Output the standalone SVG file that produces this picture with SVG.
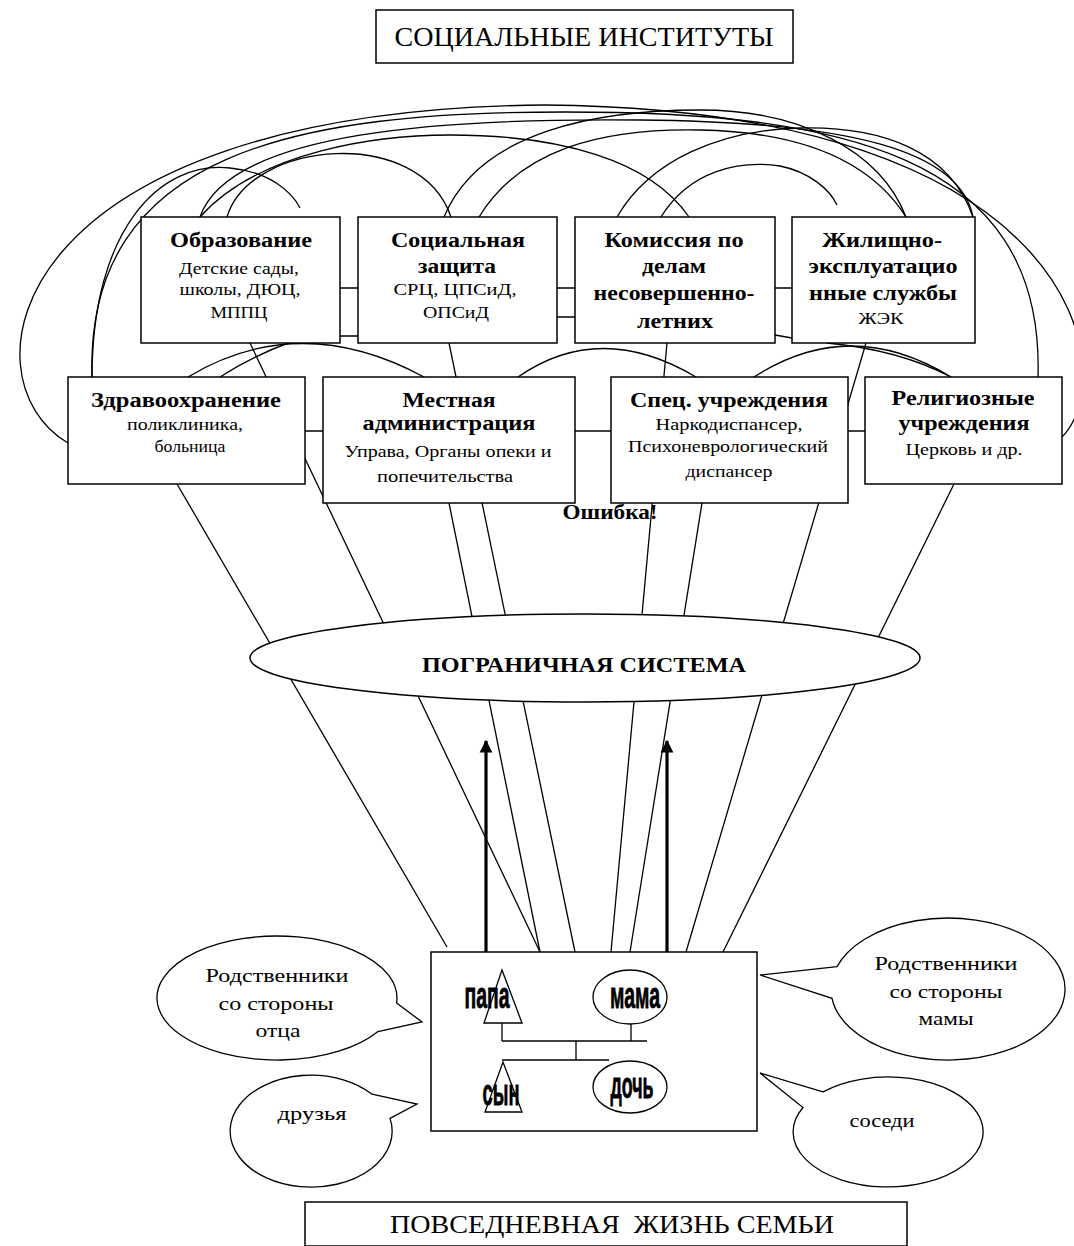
<svg xmlns="http://www.w3.org/2000/svg" width="1074" height="1246" viewBox="0 0 1074 1246">
<style>
.bg{fill:#fff}
.ln{fill:none;stroke:#000;stroke-width:1.3}
.bx{fill:#fff;stroke:#000;stroke-width:1.5}
.t{font-family:"Liberation Serif","Times New Roman",serif;fill:#000;text-anchor:middle}
.b{font-weight:bold;font-size:20px}
.n{font-size:17px}
.fam{font-family:"Liberation Sans",Arial,sans-serif;font-weight:bold;font-size:36px;fill:#000;stroke:#000;stroke-width:0.8;text-anchor:middle}
.bub{fill:#fff;stroke:#000;stroke-width:1.3}
.arr{fill:none;stroke:#000;stroke-width:3.2}
</style>
<defs>
<marker id="ah" viewBox="0 0 10 10" refX="9" refY="5" markerWidth="4" markerHeight="4.5" orient="auto" markerUnits="strokeWidth">
<path d="M0,0 L10,5 L0,10 Z" fill="#000"/>
</marker>
</defs>
<rect class="bg" x="0" y="0" width="1074" height="1246"/>

<g id="connectors">
<!-- big arcs -->
<path class="ln" d="M68,443 C -40,380 0,110 545,105 C 1090,110 1120,380 1062,437"/>
<path class="ln" d="M92,377 C 85,150 300,112 565,112 C 830,112 1045,150 1038,377"/>
<path class="ln" d="M200,217 C 230,130 450,118 640,120 C 850,122 960,150 973,217"/>
<path class="ln" d="M227,217 C 250,140 420,125 451,217"/>
<path class="ln" d="M92,377 C 92,230 160,160 230,168 C 270,172 292,192 300,208"/>
<path class="ln" d="M661,217 C 690,170 740,160 780,166 C 810,172 830,190 837,205"/>
<path class="ln" d="M444,217 C 480,130 600,110 700,110 C 800,110 880,150 906,217"/>
<path class="ln" d="M479,217 C 520,150 600,128 700,130 C 800,132 870,160 906,217"/>
<path class="ln" d="M617,217 C 650,160 720,130 800,128 C 880,126 950,150 973,217"/>
<path class="ln" d="M200,217 C 260,150 380,135 450,135 C 560,135 650,160 689,217"/>
<!-- arcs between rows -->
<path class="ln" d="M188,377 Q 300,310 424,377"/>
<path class="ln" d="M220,377 Q 270,345 330,330"/>
<path class="ln" d="M518,377 Q 600,320 696,377"/>
<path class="ln" d="M754,377 Q 850,315 951,377"/>
<path class="ln" d="M827,343 Q 900,350 951,377"/>
<!-- box-to-box short links -->
<path class="ln" d="M340,288 H358 M340,336 H358 M557,288 H575 M557,317 H575 M775,288 H792 M775,335 L792,338 M305,431 H323 M575,431 H611 M848,431 H865"/>
<!-- spokes to the family -->
<path class="ln" d="M177,484 L447,947"/>
<path class="ln" d="M250,343 L540,952"/>
<path class="ln" d="M449,503 L540,952"/>
<path class="ln" d="M449,343 L575,952"/>
<path class="ln" d="M667,343 L611,952"/>
<path class="ln" d="M702,503 L630,952"/>
<path class="ln" d="M866,343 L686,952"/>
<path class="ln" d="M954,484 L723,952"/>
</g>

<g id="title-top">
<rect class="bx" x="376" y="10" width="417" height="53"/>
<text class="t" x="584" y="46" font-size="27" textLength="379" lengthAdjust="spacingAndGlyphs">СОЦИАЛЬНЫЕ ИНСТИТУТЫ</text>
</g>

<g id="obrazovanie">
<rect class="bx" x="141" y="217" width="199" height="126"/>
<text class="t b" x="241" y="247" textLength="142" lengthAdjust="spacingAndGlyphs">Образование</text>
<text class="t n" x="239" y="274" textLength="120" lengthAdjust="spacingAndGlyphs">Детские сады,</text>
<text class="t n" x="240" y="295" textLength="121" lengthAdjust="spacingAndGlyphs">школы, ДЮЦ,</text>
<text class="t n" x="239" y="318" textLength="57" lengthAdjust="spacingAndGlyphs">МППЦ</text>
</g>

<g id="soczashita">
<rect class="bx" x="358" y="217" width="199" height="126"/>
<text class="t b" x="458" y="247" textLength="134" lengthAdjust="spacingAndGlyphs">Социальная</text>
<text class="t b" x="457" y="273" textLength="78" lengthAdjust="spacingAndGlyphs">защита</text>
<text class="t n" x="455" y="295" textLength="123" lengthAdjust="spacingAndGlyphs">СРЦ, ЦПСиД,</text>
<text class="t n" x="456" y="318" textLength="66" lengthAdjust="spacingAndGlyphs">ОПСиД</text>
</g>

<g id="komissiya">
<rect class="bx" x="575" y="217" width="200" height="126"/>
<text class="t b" x="674" y="247" textLength="139" lengthAdjust="spacingAndGlyphs">Комиссия по</text>
<text class="t b" x="674" y="273" textLength="64" lengthAdjust="spacingAndGlyphs">делам</text>
<text class="t b" x="674" y="300" textLength="161" lengthAdjust="spacingAndGlyphs">несовершенно-</text>
<text class="t b" x="675" y="328" textLength="76" lengthAdjust="spacingAndGlyphs">летних</text>
</g>

<g id="zhilishno">
<rect class="bx" x="792" y="217" width="183" height="126"/>
<text class="t b" x="882" y="247" textLength="120" lengthAdjust="spacingAndGlyphs">Жилищно-</text>
<text class="t b" x="883" y="273" textLength="149" lengthAdjust="spacingAndGlyphs">эксплуатацио</text>
<text class="t b" x="883" y="300" textLength="148" lengthAdjust="spacingAndGlyphs">нные службы</text>
<text class="t n" x="881" y="324" textLength="45" lengthAdjust="spacingAndGlyphs">ЖЭК</text>
</g>

<g id="zdravoohranenie">
<rect class="bx" x="68" y="377" width="237" height="107"/>
<text class="t b" x="186" y="407" textLength="190" lengthAdjust="spacingAndGlyphs">Здравоохранение</text>
<text class="t n" x="185" y="430" textLength="116" lengthAdjust="spacingAndGlyphs">поликлиника,</text>
<text class="t n" x="190" y="452" textLength="71" lengthAdjust="spacingAndGlyphs">больница</text>
</g>

<g id="mestnaya">
<rect class="bx" x="323" y="377" width="252" height="126"/>
<text class="t b" x="449" y="407" textLength="93" lengthAdjust="spacingAndGlyphs">Местная</text>
<text class="t b" x="449" y="430" textLength="173" lengthAdjust="spacingAndGlyphs">администрация</text>
<text class="t n" x="448" y="457" textLength="207" lengthAdjust="spacingAndGlyphs">Управа, Органы опеки и</text>
<text class="t n" x="445" y="482" textLength="136" lengthAdjust="spacingAndGlyphs">попечительства</text>
</g>

<g id="spec">
<rect class="bx" x="611" y="377" width="237" height="126"/>
<text class="t b" x="729" y="407" textLength="198" lengthAdjust="spacingAndGlyphs">Спец. учреждения</text>
<text class="t n" x="729" y="430" textLength="147" lengthAdjust="spacingAndGlyphs">Наркодиспансер,</text>
<text class="t n" x="728" y="452" textLength="200" lengthAdjust="spacingAndGlyphs">Психоневрологический</text>
<text class="t n" x="729" y="477" textLength="87" lengthAdjust="spacingAndGlyphs">диспансер</text>
</g>

<g id="religioznye">
<rect class="bx" x="865" y="377" width="197" height="107"/>
<text class="t b" x="963" y="405" textLength="143" lengthAdjust="spacingAndGlyphs">Религиозные</text>
<text class="t b" x="964" y="430" textLength="131" lengthAdjust="spacingAndGlyphs">учреждения</text>
<text class="t n" x="964" y="455" textLength="117" lengthAdjust="spacingAndGlyphs">Церковь и др.</text>
</g>

<g id="oshibka">
<text class="t b" x="610" y="519" textLength="95" lengthAdjust="spacingAndGlyphs">Ошибка!</text>
</g>

<g id="pogranichnaya">
<ellipse class="bx" cx="585" cy="658" rx="335" ry="44"/>
<text class="t" x="584" y="672" font-size="22" font-weight="bold" textLength="324" lengthAdjust="spacingAndGlyphs">ПОГРАНИЧНАЯ СИСТЕМА</text>
</g>

<g id="arrows">
<line class="arr" x1="486" y1="952" x2="486" y2="741" marker-end="url(#ah)"/>
<line class="arr" x1="667" y1="952" x2="667" y2="741" marker-end="url(#ah)"/>
</g>

<g id="semya">
<rect class="bx" x="431" y="952" width="326" height="179"/>
<polygon class="ln" points="502,970 484,1023 522,1023"/>
<ellipse class="ln" cx="630" cy="997" rx="37" ry="27"/>
<polygon class="ln" points="503,1062 485,1112 522,1112"/>
<ellipse class="ln" cx="630" cy="1087" rx="37" ry="26"/>
<path class="ln" d="M502,1023 V1041 M631,1024 V1041 M502,1041 H647 M576,1041 V1060 M502,1060 H609"/>
<text class="fam" x="487" y="1008" textLength="45" lengthAdjust="spacingAndGlyphs">папа</text>
<text class="fam" x="635" y="1008" textLength="50" lengthAdjust="spacingAndGlyphs">мама</text>
<text class="fam" x="501" y="1105" textLength="37" lengthAdjust="spacingAndGlyphs">сын</text>
<text class="fam" x="632" y="1098" textLength="43" lengthAdjust="spacingAndGlyphs">дочь</text>
</g>

<g id="rodstv-otca">
<path class="bub" d="M396.6,1003 L422,1022 L378,1031.5 A120,62 0 1 1 396.6,1003 Z"/>
<text class="t" font-size="19" x="277" y="982" textLength="143" lengthAdjust="spacingAndGlyphs">Родственники</text>
<text class="t" font-size="19" x="276" y="1010" textLength="115" lengthAdjust="spacingAndGlyphs">со стороны</text>
<text class="t" font-size="19" x="278" y="1037" textLength="45" lengthAdjust="spacingAndGlyphs">отца</text>
</g>

<g id="rodstv-mamy">
<path class="bub" d="M837,966.6 L760,975 L832,998.3 A117,71 0 1 0 837,966.6 Z"/>
<text class="t" font-size="19" x="946" y="970" textLength="143" lengthAdjust="spacingAndGlyphs">Родственники</text>
<text class="t" font-size="19" x="946" y="998" textLength="113" lengthAdjust="spacingAndGlyphs">со стороны</text>
<text class="t" font-size="19" x="946" y="1025" textLength="55" lengthAdjust="spacingAndGlyphs">мамы</text>
</g>

<g id="druzya">
<path class="bub" d="M372,1094.2 L417,1104 L390,1118.4 A81,56 0 1 1 372,1094.2 Z"/>
<text class="t" font-size="18" x="312" y="1120" textLength="69" lengthAdjust="spacingAndGlyphs">друзья</text>
</g>

<g id="sosedi">
<path class="bub" d="M823,1091.9 L760,1073 L803,1107.5 A95,55 0 1 0 823,1091.9 Z"/>
<text class="t" font-size="18" x="882" y="1127" textLength="65" lengthAdjust="spacingAndGlyphs">соседи</text>
</g>

<g id="title-bottom">
<rect class="bx" x="305" y="1202" width="602" height="44"/>
<text class="t" x="612" y="1233" font-size="25" xml:space="preserve" textLength="444" lengthAdjust="spacingAndGlyphs">ПОВСЕДНЕВНАЯ  ЖИЗНЬ СЕМЬИ</text>
</g>
</svg>
